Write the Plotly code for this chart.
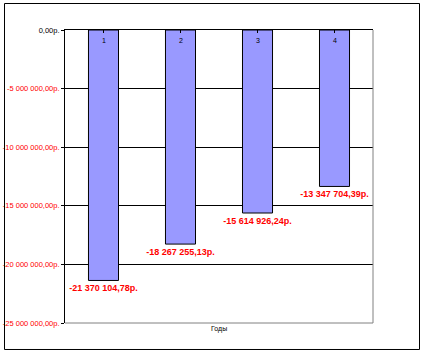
import plotly.graph_objects as go

categories = ["1", "2", "3", "4"]
values = [-21370104.78, -18267255.13, -15614926.24, -13347704.39]
y_ticks = [0, -5e6, -10e6, -15e6, -20e6, -25e6]
x_title = "Годы"


def rub(v):
    neg = v < 0
    v = abs(v)
    whole = int(v)
    frac = int(round((v - whole) * 100))
    s = f"{whole:,}".replace(",", " ")
    return ("-" if neg else "") + f"{s},{frac:02d}р."


tick_text = []
for t in y_ticks:
    color = "#000000" if t == 0 else "#FF0000"
    tick_text.append(f'<span style="color:{color}">{rub(t)}</span>')

fig = go.Figure()
fig.add_trace(go.Bar(
    x=categories,
    y=values,
    width=0.39,
    marker=dict(color="#9999FF", line=dict(color="black", width=1)),
    text=[rub(v) for v in values],
    textposition="outside",
    constraintext="none",
    textfont=dict(family="Liberation Sans", size=9, color="red", weight="bold"),
    cliponaxis=False,
))

annotations = [
    dict(text=x_title, xref="paper", yref="paper", x=0.5, y=-0.041,
         showarrow=False, font=dict(size=7, color="black")),
]
for c in categories:
    annotations.append(dict(text=c, x=c, y=0, xref="x", yref="y",
                            yanchor="top", yshift=-5, showarrow=False,
                            font=dict(size=7, color="black")))

fig.update_layout(
    template="none",
    width=425, height=354,
    margin=dict(l=65, r=52, t=30, b=31),
    paper_bgcolor="white", plot_bgcolor="white",
    showlegend=False,
    font=dict(family="Liberation Sans", size=7, color="#000000"),
    xaxis=dict(
        side="top", showline=True, linecolor="black", linewidth=1,
        ticks="inside", ticklen=3, tickcolor="black", tickson="boundaries",
        showticklabels=False,
        showgrid=False, zeroline=False,
    ),
    yaxis=dict(
        range=[-25e6, 0], tickvals=y_ticks, ticktext=tick_text,
        showline=True, linecolor="black", linewidth=1,
        ticks="outside", ticklen=3, tickcolor="black",
        showgrid=True, gridcolor="black", gridwidth=1,
        zeroline=False, tickfont=dict(size=7.5, color="#000000"),
    ),
    shapes=[
        dict(type="line", xref="paper", yref="paper", x0=1, x1=1, y0=0, y1=1,
             line=dict(color="gray", width=1)),
        dict(type="line", xref="paper", yref="paper", x0=0, x1=1, y0=0, y1=0,
             line=dict(color="gray", width=1)),
        dict(type="rect", xref="paper", yref="paper",
             x0=-0.1964, x1=1.151, y0=-0.0904, y1=1.0904,
             line=dict(color="black", width=1)),
    ],
    annotations=annotations,
)

fig.write_html("out.html")
